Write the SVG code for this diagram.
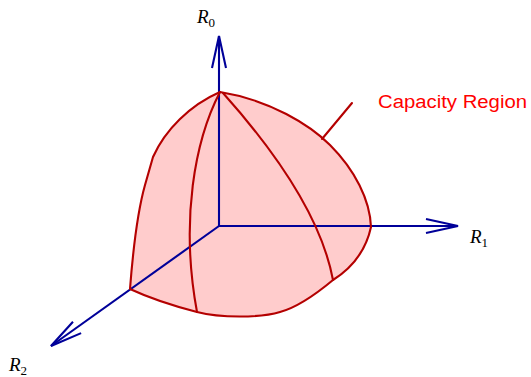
<svg xmlns="http://www.w3.org/2000/svg" width="531" height="377" viewBox="0 0 531 377">
<style>
.red{fill:none;stroke:#b40000;stroke-width:2.1;stroke-linecap:round;stroke-linejoin:round}
.ax{fill:none;stroke:#000099;stroke-width:2.1}
.lab{font-family:"Liberation Serif",serif;font-style:italic;font-size:19px;fill:#000}
.sub{font-style:normal;font-size:13px}
</style>
<defs>
<marker id="arr" markerUnits="userSpaceOnUse" markerWidth="40" markerHeight="20" viewBox="-34 -10 40 20" refX="0" refY="0" orient="auto">
<path d="M-32,-7 L0,0 L-32,7" fill="none" stroke="#000099" stroke-width="2.1"/>
</marker>
</defs>
<rect width="531" height="377" fill="#fff"/>
<g id="region">
<path d="M220,92 C270,100 310,125 330,145 C355,170 370,200 371,227 C366,250 352,268 333,280 C315,295 295,308 280,312 C260,318 220,318 197,312 C170,305 145,296 130,289 C133,250 138,210 145,185 L153,157 C165,130 190,105 220,92 Z" fill="#ffcccc" stroke="none"/>
</g>
<g id="connectors">
<line class="ax" x1="219" y1="226" x2="219" y2="36" marker-end="url(#arr)"/>
<line class="ax" x1="219" y1="226" x2="458" y2="226" marker-end="url(#arr)"/>
<line class="ax" x1="219" y1="226" x2="51" y2="346" marker-end="url(#arr)"/>
</g>
<g id="region-lines">
<path class="red" d="M220,92 C270,100 310,125 330,145 C355,170 370,200 371,227 C366,250 352,268 333,280 C315,295 295,308 280,312 C260,318 220,318 197,312 C170,305 145,296 130,289 C133,250 138,210 145,185 L153,157 C165,130 190,105 220,92 Z"/>
<path class="red" d="M220,92 C195,140 180,220 197,312"/>
<path class="red" d="M223,93 C265,140 320,210 333,280"/>
<line class="red" x1="322" y1="139" x2="352" y2="103"/>
</g>
<g id="label-region">
<text x="378" y="108" font-family="Liberation Sans, Arial, sans-serif" font-size="18" fill="#ff0000" textLength="149" lengthAdjust="spacingAndGlyphs">Capacity Region</text>
</g>
<g id="label-R0"><text class="lab" x="197" y="23">R<tspan class="sub" dy="4">0</tspan></text></g>
<g id="label-R1"><text class="lab" x="470" y="243">R<tspan class="sub" dy="4">1</tspan></text></g>
<g id="label-R2"><text class="lab" x="9" y="371">R<tspan class="sub" dy="4">2</tspan></text></g>
</svg>
